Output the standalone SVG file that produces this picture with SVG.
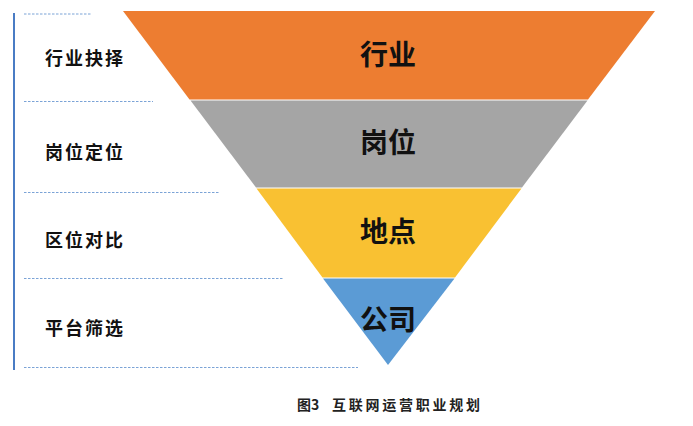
<svg xmlns="http://www.w3.org/2000/svg" width="693" height="426" viewBox="0 0 693 426">
<style>
.lbl{font-family:"Noto Sans CJK SC","Noto Sans",sans-serif;font-weight:bold;fill:#111;font-size:18px;letter-spacing:2px}
.big{font-family:"Noto Sans CJK SC","Noto Sans",sans-serif;font-weight:bold;fill:#111;font-size:28px;text-anchor:middle}
.cap{font-family:"Noto Sans CJK SC","Noto Sans",sans-serif;font-weight:bold;fill:#222;font-size:14px}
.dash{stroke:#7BA3D6;stroke-width:1;stroke-dasharray:2.5 1.5;fill:none}
</style>
<rect width="693" height="426" fill="#fff"/>
<g id="guides">
<line x1="14" y1="13" x2="14" y2="370" stroke="#4A7CC4" stroke-width="2"/>
<line class="dash" x1="24" y1="14" x2="92" y2="14"/>
<line class="dash" x1="24" y1="101.5" x2="153" y2="101.5"/>
<line class="dash" x1="24" y1="192.5" x2="220" y2="192.5"/>
<line class="dash" x1="24" y1="278.5" x2="284" y2="278.5"/>
<line class="dash" x1="24" y1="367.5" x2="358" y2="367.5"/>
</g>
<g id="labels">
<text class="lbl" x="45" y="65">行业抉择</text>
<text class="lbl" x="45" y="159">岗位定位</text>
<text class="lbl" x="45" y="247">区位对比</text>
<text class="lbl" x="45" y="335">平台筛选</text>
</g>
<g id="band-industry">
<polygon points="123,11 655,11 588,99.5 189.5,99.5" fill="#ED7D31"/>
<text class="big" x="388" y="65">行业</text>
</g>
<g id="band-position">
<polygon points="190.5,100.5 587.5,100.5 522,187.5 256,187.5" fill="#A5A5A5"/>
<text class="big" x="388" y="153">岗位</text>
</g>
<g id="band-location">
<polygon points="256.5,188.5 521.5,188.5 455,277.5 322.5,277.5" fill="#F9C132"/>
<text class="big" x="388" y="242">地点</text>
</g>
<g id="band-company">
<polygon points="323,278.5 454.5,278.5 388,365" fill="#5B9BD5"/>
<text class="big" x="388" y="330">公司</text>
</g>
<g id="connectors"></g>
<g id="caption">
<text class="cap" x="297" y="410">图3</text>
<text class="cap" x="332" y="410" textLength="148" lengthAdjust="spacing">互联网运营职业规划</text>
</g>
</svg>
